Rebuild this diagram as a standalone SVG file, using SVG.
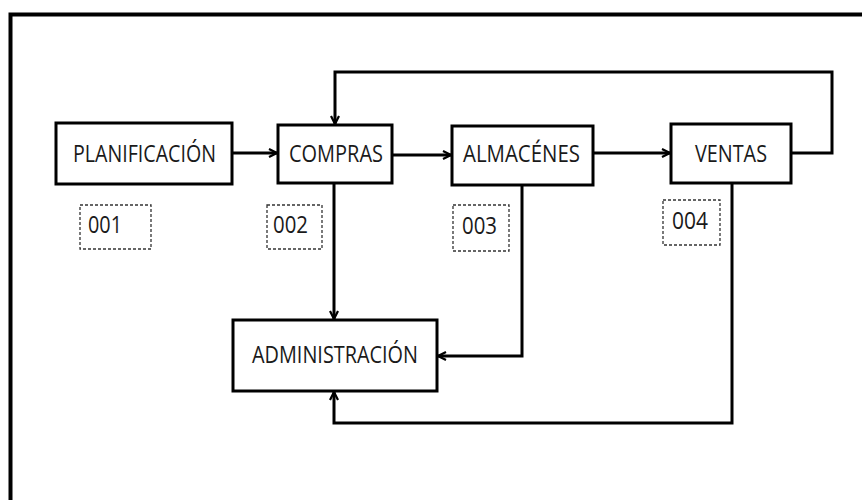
<svg xmlns="http://www.w3.org/2000/svg" width="862" height="500" viewBox="0 0 862 500">
<defs>
<style>
.box{fill:#fff;stroke:#000;stroke-width:3}
.code{fill:none;stroke:#333;stroke-width:1.3;stroke-dasharray:3 2}
.lbl{font-family:"Open Sans","Liberation Sans",sans-serif;font-size:24px;fill:#1a1a1a}
.num{font-family:"Open Sans","Liberation Sans",sans-serif;font-size:24px;fill:#1a1a1a}
.conn{fill:none;stroke:#000;stroke-width:3;stroke-linejoin:miter}
</style>
<marker id="arr" viewBox="0 0 10 10" refX="9" refY="5" markerWidth="10" markerHeight="10" markerUnits="userSpaceOnUse" orient="auto">
<path d="M1,1 L9,5 L1,9" fill="none" stroke="#000" stroke-width="2.2"/>
</marker>
</defs>
<rect width="862" height="500" fill="#fff"/>
<path d="M10.5,500 V14.5 H862" fill="none" stroke="#000" stroke-width="4"/>
<g id="connectors">
<path class="conn" d="M232,153 H277" marker-end="url(#arr)"/>
<path class="conn" d="M392,155 H451" marker-end="url(#arr)"/>
<path class="conn" d="M593,153 H670" marker-end="url(#arr)"/>
<path class="conn" d="M791,153 H832 V72 H335 V124" marker-end="url(#arr)"/>
<path class="conn" d="M334,183 V319" marker-end="url(#arr)"/>
<path class="conn" d="M522,185 V356 H438" marker-end="url(#arr)"/>
<path class="conn" d="M732,183 V423 H334 V392" marker-end="url(#arr)"/>
</g>
<g id="planificacion">
<rect class="box" x="56" y="123" width="176" height="61"/>
<text class="lbl" x="73" y="162" textLength="143" lengthAdjust="spacingAndGlyphs">PLANIFICACIÓN</text>
</g>
<g id="compras">
<rect class="box" x="278" y="125" width="114" height="58"/>
<text class="lbl" x="289" y="162" textLength="94" lengthAdjust="spacingAndGlyphs">COMPRAS</text>
</g>
<g id="almacenes">
<rect class="box" x="452" y="126" width="141" height="59"/>
<text class="lbl" x="463" y="162" textLength="117" lengthAdjust="spacingAndGlyphs">ALMACÉNES</text>
</g>
<g id="ventas">
<rect class="box" x="671" y="124" width="120" height="59"/>
<text class="lbl" x="695" y="162" textLength="72" lengthAdjust="spacingAndGlyphs">VENTAS</text>
</g>
<g id="administracion">
<rect class="box" x="233" y="320" width="204" height="71"/>
<text class="lbl" x="252" y="363" textLength="166" lengthAdjust="spacingAndGlyphs">ADMINISTRACIÓN</text>
</g>
<g id="c001">
<rect class="code" x="80" y="205" width="71" height="44"/>
<text class="num" x="88" y="233" textLength="34" lengthAdjust="spacingAndGlyphs">001</text>
</g>
<g id="c002">
<rect class="code" x="267" y="205" width="55" height="44"/>
<text class="num" x="273" y="233" textLength="35" lengthAdjust="spacingAndGlyphs">002</text>
</g>
<g id="c003">
<rect class="code" x="453" y="205" width="56" height="46"/>
<text class="num" x="462" y="234" textLength="35" lengthAdjust="spacingAndGlyphs">003</text>
</g>
<g id="c004">
<rect class="code" x="663" y="200" width="57" height="45"/>
<text class="num" x="672" y="229" textLength="36" lengthAdjust="spacingAndGlyphs">004</text>
</g>
</svg>
